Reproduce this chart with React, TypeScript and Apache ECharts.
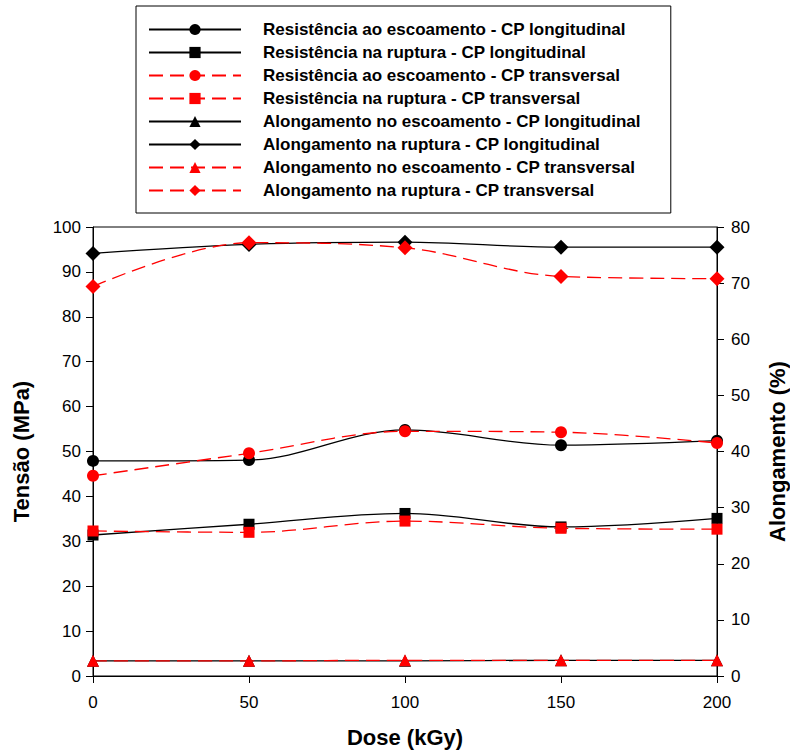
import React, { useEffect, useRef } from "react";
import * as echarts from "echarts";

const doses = [0, 50, 100, 150, 200];
const legendNames = [
  "Resistência ao escoamento - CP longitudinal",
  "Resistência na ruptura - CP longitudinal",
  "Resistência ao escoamento - CP transversal",
  "Resistência na ruptura - CP transversal",
  "Alongamento no escoamento - CP longitudinal",
  "Alongamento na ruptura - CP longitudinal",
  "Alongamento no escoamento - CP transversal",
  "Alongamento na ruptura - CP transversal",
];
const resEscLong = [47.9, 48.1, 54.8, 51.4, 52.4];
const resRupLong = [31.4, 33.8, 36.2, 33.2, 35.1];
const resEscTrans = [44.6, 49.6, 54.5, 54.3, 51.9];
const resRupTrans = [32.3, 32.0, 34.5, 32.9, 32.7];
const alongEscLong = [2.7, 2.7, 2.7, 2.8, 2.8];
const alongRupLong = [75.3, 76.9, 77.3, 76.4, 76.4];
const alongEscTrans = [2.7, 2.7, 2.8, 2.8, 2.8];
const alongRupTrans = [69.4, 77.2, 76.3, 71.2, 70.8];
const leftTicks = { min: 0, max: 100, interval: 10 };
const rightTicks = { min: 0, max: 80, interval: 10 };
const xTicks = { min: 0, max: 200, interval: 50 };

const FONT = "Arial, 'Liberation Sans', sans-serif";

function pairs(vals: number[]) {
  return doses.map((d, i) => [d, vals[i]]);
}

export default function App() {
  const ref = useRef<HTMLDivElement>(null);
  useEffect(() => {
    if (!ref.current) return;
    const chart = echarts.init(ref.current, null, { renderer: "svg" });
    const mk = (
      idx: number,
      vals: number[],
      color: string,
      dashed: boolean,
      symbol: string,
      size: number,
      yAxisIndex: number
    ) => ({
      name: legendNames[idx],
      type: "line",
      yAxisIndex,
      data: pairs(vals),
      smooth: 0.35,
      symbol,
      symbolSize: size,
      showSymbol: true,
      itemStyle: { color, borderWidth: 0 },
      lineStyle: { color, width: 1.3, type: dashed ? [14, 7] : "solid" },
      z: dashed ? 3 : 2,
    });
    const titleStyle = { fontFamily: FONT, fontSize: 22, fontWeight: "bold", color: "#000" };
    const tickLabel = { fontFamily: FONT, fontSize: 17, color: "#000" };
    const option = {
      animation: false,
      backgroundColor: "#fff",
      textStyle: { fontFamily: FONT },
      legend: {
        orient: "vertical",
        left: 136,
        top: 6,
        padding: [15, 30, 14, 12],
        borderColor: "#000",
        borderWidth: 1,
        itemWidth: 92,
        itemHeight: 14,
        itemGap: 6,
        textStyle: {
          fontFamily: FONT,
          fontSize: 17,
          fontWeight: "bold",
          color: "#000",
          padding: [0, 0, 0, 17],
        },
        data: legendNames,
      },
      grid: {
        left: 93,
        right: 73,
        top: 227,
        bottom: 75,
        show: true,
        borderColor: "#000",
        borderWidth: 1,
        backgroundColor: "transparent",
        containLabel: false,
        outerBoundsMode: "none",
      },
      xAxis: {
        type: "value",
        ...xTicks,
        name: "Dose (kGy)",
        nameLocation: "middle",
        nameGap: 50,
        nameTextStyle: titleStyle,
        axisLine: { lineStyle: { color: "#000", width: 1 } },
        axisTick: { show: true, inside: false, length: 7, lineStyle: { color: "#000" } },
        axisLabel: { ...tickLabel, margin: 18 },
        splitLine: { show: false },
      },
      yAxis: [
        {
          type: "value",
          position: "left",
          ...leftTicks,
          name: "Tensão (MPa)",
          nameLocation: "middle",
          nameRotate: 90,
          nameGap: 61,
          nameTextStyle: titleStyle,
          axisLine: { show: true, lineStyle: { color: "#000", width: 1 } },
          axisTick: { show: true, inside: false, length: 7, lineStyle: { color: "#000" } },
          axisLabel: { ...tickLabel, margin: 12 },
          splitLine: { show: false },
        },
        {
          type: "value",
          position: "right",
          ...rightTicks,
          name: "Alongamento (%)",
          nameLocation: "middle",
          nameRotate: 90,
          nameGap: 49,
          nameTextStyle: titleStyle,
          axisLine: { show: true, lineStyle: { color: "#000", width: 1 } },
          axisTick: { show: true, inside: false, length: 7, lineStyle: { color: "#000" } },
          axisLabel: { ...tickLabel, margin: 14 },
          splitLine: { show: false },
        },
      ],
      series: [
        mk(0, resEscLong, "#000", false, "circle", 12, 0),
        mk(1, resRupLong, "#000", false, "rect", 11, 0),
        mk(2, resEscTrans, "#ff0000", true, "circle", 12, 0),
        mk(3, resRupTrans, "#ff0000", true, "rect", 11, 0),
        mk(4, alongEscLong, "#000", false, "triangle", 12, 1),
        mk(5, alongRupLong, "#000", false, "diamond", 15, 1),
        mk(6, alongEscTrans, "#ff0000", true, "triangle", 12, 1),
        mk(7, alongRupTrans, "#ff0000", true, "diamond", 15, 1),
      ],
    };
    chart.setOption(option as any);
    return () => chart.dispose();
  }, []);
  return (
    <div
      ref={ref}
      style={{ position: "fixed", left: 0, top: 0, width: 790, height: 751 }}
    />
  );
}
